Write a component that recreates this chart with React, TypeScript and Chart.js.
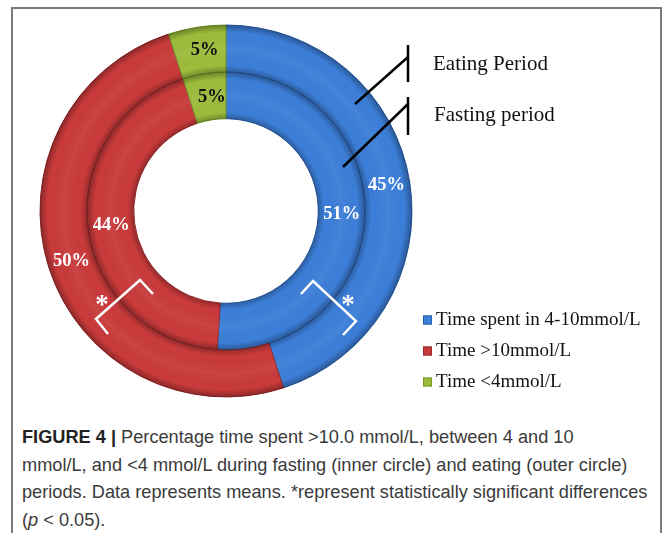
import React, { useEffect, useRef } from "react";
import { Chart, registerables } from "chart.js";

Chart.register(...registerables);

// ---- data ----
const categories = ["Time spent in 4-10mmol/L", "Time >10mmol/L", "Time <4mmol/L"];
const eatingValues = [45, 50, 5]; // outer ring
const fastingValues = [51, 44, 5]; // inner ring
const periodLabels = ["Eating Period", "Fasting period"];
const colors = ["#3c7ed8", "#c93a3b", "#9cbc3c"];
const edgeColors = ["#2a5ea6", "#962a2c", "#76962a"];
const valueLabelColors = ["#ffffff", "#ffffff", "#111111"];

const SERIF = '"Liberation Serif", "Times New Roman", serif';

const overlayPlugin = {
  id: "overlay",
  afterDatasetsDraw(chart: any) {
    const ctx = chart.ctx as CanvasRenderingContext2D;
    chart.data.datasets.forEach((_ds: any, di: number) => {
      const meta = chart.getDatasetMeta(di);
      meta.data.forEach((arc: any) => {
        const { x, y, startAngle, endAngle, innerRadius, outerRadius } = arc.getProps(
          ["x", "y", "startAngle", "endAngle", "innerRadius", "outerRadius"],
          true
        );
        const g = ctx.createRadialGradient(x, y, innerRadius, x, y, outerRadius);
        g.addColorStop(0, "rgba(0,0,0,0.25)");
        g.addColorStop(0.14, "rgba(0,0,0,0)");
        g.addColorStop(0.5, "rgba(255,255,255,0.05)");
        g.addColorStop(0.84, "rgba(0,0,0,0)");
        g.addColorStop(1, "rgba(0,0,0,0.3)");
        ctx.save();
        ctx.beginPath();
        ctx.arc(x, y, outerRadius, startAngle, endAngle);
        ctx.arc(x, y, innerRadius, endAngle, startAngle, true);
        ctx.closePath();
        ctx.fillStyle = g;
        ctx.fill();
        ctx.restore();
      });
    });
  },
  afterDraw(chart: any) {
    const ctx = chart.ctx as CanvasRenderingContext2D;
    const meta0 = chart.getDatasetMeta(0);
    const first = meta0.data[0];
    const cx = first.x;
    const cy = first.y;

    // value labels
    ctx.save();
    ctx.textAlign = "center";
    ctx.textBaseline = "middle";
    ctx.font = `bold 18.5px ${SERIF}`;
    chart.data.datasets.forEach((ds: any, di: number) => {
      const meta = chart.getDatasetMeta(di);
      meta.data.forEach((arc: any, i: number) => {
        const p = arc.tooltipPosition();
        ctx.fillStyle = valueLabelColors[i];
        const dx = i === 2 ? 4 : 0;
        ctx.fillText(ds.data[i] + "%", p.x + dx, p.y);
      });
    });
    ctx.restore();

    // leader lines + period labels
    ctx.save();
    ctx.strokeStyle = "#000";
    ctx.lineWidth = 2.5;
    const leaders = [
      { from: [129, -107], to: [182, -154], vTop: -166, vBot: -129, text: [207, -147] },
      { from: [117, -44], to: [182, -107], vTop: -114, vBot: -76, text: [208, -96] },
    ];
    ctx.font = `21px ${SERIF}`;
    ctx.fillStyle = "#111";
    ctx.textAlign = "left";
    ctx.textBaseline = "middle";
    leaders.forEach((l, i) => {
      ctx.beginPath();
      ctx.moveTo(cx + l.from[0], cy + l.from[1]);
      ctx.lineTo(cx + l.to[0], cy + l.to[1]);
      ctx.stroke();
      ctx.beginPath();
      ctx.moveTo(cx + l.to[0], cy + l.vTop);
      ctx.lineTo(cx + l.to[0], cy + l.vBot);
      ctx.stroke();
      ctx.fillText(periodLabels[i], cx + l.text[0], cy + l.text[1]);
    });
    ctx.restore();

    // significance brackets
    ctx.save();
    ctx.strokeStyle = "#fff";
    ctx.lineWidth = 2.5;
    ctx.lineJoin = "miter";
    const brackets = [
      [[75, 83], [87, 70], [130, 110], [117, 124]],
      [[-73, 83], [-86, 69], [-130, 108], [-118, 123]],
    ];
    brackets.forEach((b) => {
      ctx.beginPath();
      b.forEach((pt, k) => {
        if (k === 0) ctx.moveTo(cx + pt[0], cy + pt[1]);
        else ctx.lineTo(cx + pt[0], cy + pt[1]);
      });
      ctx.stroke();
    });
    ctx.fillStyle = "#fff";
    ctx.font = `bold 27px ${SERIF}`;
    ctx.textAlign = "center";
    ctx.textBaseline = "middle";
    ctx.fillText("*", cx + 122, cy + 95);
    ctx.fillText("*", cx - 124, cy + 95);
    ctx.restore();

    // legend
    ctx.save();
    ctx.font = `19px ${SERIF}`;
    ctx.textAlign = "left";
    ctx.textBaseline = "middle";
    const lx = cx + 197;
    const ly = cy + 109;
    categories.forEach((c, i) => {
      const y = ly + i * 31;
      ctx.fillStyle = colors[i];
      ctx.fillRect(lx, y - 4.5, 9, 9);
      ctx.strokeStyle = edgeColors[i];
      ctx.lineWidth = 1;
      ctx.strokeRect(lx + 0.5, y - 4, 8, 8);
      ctx.fillStyle = "#111";
      ctx.fillText(c, lx + 13, y);
    });
    ctx.restore();
  },
};

export default function App() {
  const ref = useRef<HTMLCanvasElement | null>(null);

  useEffect(() => {
    if (!ref.current) return;
    const chart = new Chart(ref.current, {
      type: "doughnut",
      data: {
        labels: categories,
        datasets: [
          {
            label: periodLabels[0],
            data: eatingValues,
            backgroundColor: colors,
            borderColor: edgeColors,
            borderWidth: 1,
          },
          {
            label: periodLabels[1],
            data: fastingValues,
            backgroundColor: colors,
            borderColor: edgeColors,
            borderWidth: 1,
          },
        ],
      },
      options: {
        responsive: false,
        animation: false,
        events: [],
        radius: 186,
        cutout: "49.6%",
        layout: { padding: { left: 36, right: 252, top: 21, bottom: 9 } },
        plugins: {
          legend: { display: false },
          tooltip: { enabled: false },
          title: { display: false },
        },
      } as any,
      plugins: [overlayPlugin],
    });
    return () => chart.destroy();
  }, []);

  return (
    <div style={{ position: "absolute", left: 0, top: 0, width: 668, height: 533, overflow: "hidden", background: "#fff" }}>
      <div
        style={{
          position: "absolute",
          left: 11,
          top: 7,
          width: 651,
          height: 560,
          border: "2px solid #7a7a7a",
          boxSizing: "border-box",
        }}
      />
      <canvas ref={ref} width={668} height={410} style={{ position: "absolute", left: 0, top: 0 }} />
      <div
        style={{
          position: "absolute",
          left: 22,
          top: 424,
          fontFamily: '"Liberation Sans", Arial, Helvetica, sans-serif',
          fontSize: 18.2,
          lineHeight: "27.7px",
          color: "#3a3a3a",
          whiteSpace: "nowrap",
        }}
      >
        <b style={{ color: "#222" }}>FIGURE 4 |</b> Percentage time spent &gt;10.0 mmol/L, between 4 and 10
        <br />
        mmol/L, and &lt;4 mmol/L during fasting (inner circle) and eating (outer circle)
        <br />
        periods. Data represents means. *represent statistically significant differences
        <br />
        (<i>p</i> &lt; 0.05).
      </div>
    </div>
  );
}
